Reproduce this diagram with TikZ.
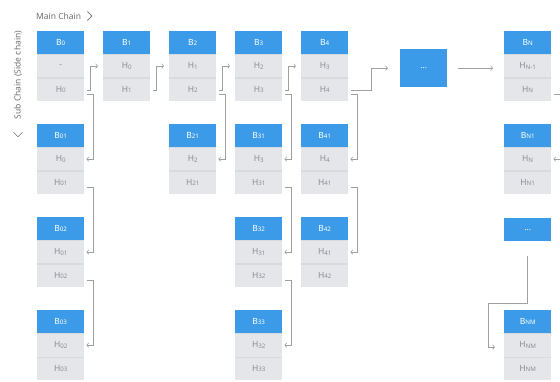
\documentclass[tikz,border=0pt]{standalone}
\usepackage{fontspec}
\setmainfont{Noto Sans}
\usepackage{tikz}
\usetikzlibrary{arrows.meta,positioning}
\usepackage{xcolor}

\definecolor{headblue}{HTML}{3B9BE8}
\definecolor{cellgray}{HTML}{E4E6EA}
\definecolor{sepgray}{HTML}{D7DADF}
\definecolor{textgray}{HTML}{8A8F96}
\definecolor{linkgray}{HTML}{A0A0A0}
\definecolor{labelgray}{HTML}{6E6E6E}

\newcommand{\idx}[1]{\raisebox{-0.1ex}{\fontsize{6.2}{6}\selectfont #1}}

\tikzset{
  head/.style={rectangle, fill=headblue, text=white, minimum width=47pt, minimum height=23pt, inner sep=0pt, font=\fontsize{8.5}{10}\selectfont},
  cell/.style={rectangle, fill=cellgray, text=textgray, minimum width=47pt, minimum height=23pt, inner sep=0pt, font=\fontsize{8.5}{10}\selectfont,
    path picture={\draw[sepgray, line width=1.2pt] (path picture bounding box.north west) -- (path picture bounding box.north east);}},
  link/.style={draw=linkgray, line width=0.6pt, -{Straight Barb[length=2pt,width=4.5pt]}},
  lbl/.style={text=labelgray, inner sep=0pt, font=\fontsize{8.5}{10}\selectfont},
  chev/.style={draw=labelgray, line width=0.6pt}
}

\begin{document}
\begin{tikzpicture}[x=1pt,y=-1pt]
          \useasboundingbox (0,0) rectangle (560,382);

          % Labels
          \node[lbl, anchor=west] (mainlbl) at (36,16) {Main Chain};
          \draw[chev] ([xshift=6pt,yshift=4.5pt]mainlbl.east) -- ++(4.5,4.5) -- ++(-4.5,4.5);
          \node[lbl, rotate=90] (sidelbl) at (18,75) {Sub Chain (Side chain)};
          \draw[chev] ([xshift=-4.5pt,yshift=-13pt]sidelbl.west) -- ++(4.5,4.5) -- ++(4.5,-4.5);

          % Blocks
          \foreach \n/\x/\y/\b/\ha/\hb in {
              b0/37/31/B\idx{0}/-/H\idx{0},
              b1/103/31/B\idx{1}/H\idx{0}/H\idx{1},
              b2/169/31/B\idx{2}/H\idx{1}/H\idx{2},
              b3/235/31/B\idx{3}/H\idx{2}/H\idx{3},
              b4/301/31/B\idx{4}/H\idx{3}/H\idx{4},
              bN/504/31/B\idx{N}/H\idx{N-1}/H\idx{N},
              b01/37/124/B\idx{01}/H\idx{0}/H\idx{01},
              b21/169/124/B\idx{21}/H\idx{2}/H\idx{21},
              b31/235/124/B\idx{31}/H\idx{3}/H\idx{31},
              b41/301/124/B\idx{41}/H\idx{4}/H\idx{41},
              bN1/504/124/B\idx{N1}/H\idx{N}/H\idx{N1},
              b02/37/217/B\idx{02}/H\idx{01}/H\idx{02},
              b32/235/217/B\idx{32}/H\idx{31}/H\idx{32},
              b42/301/217/B\idx{42}/H\idx{41}/H\idx{42},
              b03/37/310/B\idx{03}/H\idx{02}/H\idx{03},
              b33/235/310/B\idx{33}/H\idx{32}/H\idx{33},
              bNM/504/310/B\idx{NM}/H\idx{NM}/H\idx{NM}}
          {
            \node[head, anchor=north west] (\n) at (\x,\y) {\b};
            \node[cell, below=0pt of \n] (\n-h1) {\ha};
            \node[cell, below=0pt of \n-h1] (\n-h2) {\hb};
          }

          % Gaps
          \node[head, minimum height=38pt, anchor=north west] (dots) at (400,49) {...};
          \node[head, anchor=north west] (dotsN) at (504,218) {...};

          % Main chain
          \foreach \a/\b in {b0/b1, b1/b2, b2/b3, b3/b4}
            \draw[link] ([xshift=3pt,yshift=-1pt]\a-h2.east) -- ++(3,0) |- ([xshift=-5pt]\b-h1.west);
          \draw[link] ([xshift=3pt,yshift=-1pt]b4-h2.east) -- ++(20,0) |- ([xshift=-12pt]dots.west);
          \draw[link] ([xshift=11pt]dots.east) -- ([xshift=-11pt]dots.east -| bN.west);

          % Side chains
          \foreach \a/\b in {b0/b01, b01/b02, b02/b03, b2/b21, b3/b31, b31/b32, b32/b33, b4/b41, b41/b42, bN/bN1}
            \draw[link] ([xshift=3pt,yshift=-5pt]\a-h2.east) -- ++(6,0) |- ([xshift=2pt]\b-h1.east);
          \draw[link] ([yshift=-15pt]dotsN.south) -- ++(0,47) -- ++(-39,0) |- ([xshift=-9pt,yshift=-2pt]bNM-h1.west);

        \end{tikzpicture}
\end{document}
